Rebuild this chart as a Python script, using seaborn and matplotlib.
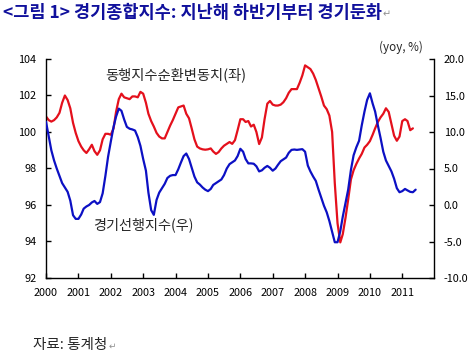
import numpy as np
import pandas as pd
import matplotlib
matplotlib.use("Agg")
import matplotlib.pyplot as plt
import matplotlib.dates as mdates
from matplotlib.ticker import FuncFormatter
import seaborn as sns

# 월별 데이터 (2000.1 ~ 2011.5/6)
동행지수순환변동치 = [
    100.85, 100.65, 100.57, 100.65, 100.80, 101.05, 101.60, 102.00, 101.75, 101.30, 100.50, 99.95,
    99.50, 99.20, 99.00, 98.85, 99.05, 99.30, 98.95, 98.75, 99.00, 99.60, 99.90, 99.90,
    99.85, 100.20, 101.10, 101.80, 102.10, 101.90, 101.85, 101.80, 101.95, 101.95, 101.90, 102.20,
    102.10, 101.60, 101.00, 100.60, 100.30, 99.95, 99.75, 99.65, 99.65, 100.00, 100.35, 100.65,
    101.00, 101.35, 101.40, 101.45, 101.00, 100.75, 100.20, 99.60, 99.20, 99.10, 99.05, 99.03,
    99.05, 99.10, 98.93, 98.80, 98.90, 99.10, 99.25, 99.35, 99.45, 99.35, 99.55, 100.10,
    100.70, 100.70, 100.55, 100.60, 100.30, 100.40, 100.00, 99.34, 99.70, 100.70, 101.55, 101.70,
    101.50, 101.45, 101.45, 101.50, 101.63, 101.85, 102.15, 102.35, 102.35, 102.35, 102.70, 103.10,
    103.65, 103.55, 103.45, 103.20, 102.85, 102.40, 101.95, 101.45, 101.25, 100.90, 100.00, 97.20,
    95.00, 93.95, 94.40, 95.30, 96.30, 97.40, 97.90, 98.25, 98.55, 98.80, 99.15, 99.30,
    99.50, 99.85, 100.20, 100.55, 100.80, 101.00, 101.30, 101.10, 100.45, 99.80, 99.52, 99.75,
    100.60, 100.70, 100.60, 100.10, 100.20,
]
경기선행지수 = [
    11.4, 9.4, 7.5, 6.1, 5.0, 4.0, 3.0, 2.4, 1.8, 0.6, -1.4, -1.9,
    -1.9, -1.3, -0.5, -0.2, 0.0, 0.35, 0.55, 0.15, 0.4, 1.6, 4.0, 6.6,
    8.7, 10.7, 12.1, 13.2, 12.9, 11.7, 10.7, 10.45, 10.35, 10.2, 9.3, 8.1,
    6.3, 4.7, 1.7, -0.7, -1.35, 0.7, 1.7, 2.3, 2.9, 3.7, 4.0, 4.1,
    4.1, 4.9, 5.8, 6.7, 7.05, 6.3, 5.1, 3.9, 3.1, 2.8, 2.4, 2.1,
    1.9, 2.2, 2.75, 3.0, 3.25, 3.5, 4.1, 5.0, 5.6, 5.85, 6.1, 6.7,
    7.7, 7.3, 6.3, 5.7, 5.7, 5.65, 5.3, 4.6, 4.75, 5.1, 5.35, 5.1,
    4.7, 5.0, 5.5, 6.0, 6.25, 6.5, 7.15, 7.55, 7.6, 7.55, 7.6, 7.65,
    7.3, 5.4, 4.6, 3.9, 3.3, 2.1, 1.0, -0.1, -1.0, -2.2, -3.7, -5.1,
    -5.1, -3.6, -1.6, 0.3, 2.1, 4.8, 6.8, 7.9, 8.8, 10.9, 12.8, 14.4,
    15.3, 13.9, 12.8, 10.9, 9.2, 7.3, 6.1, 5.35, 4.6, 3.6, 2.3, 1.75,
    1.9, 2.2, 2.0, 1.8, 1.75, 2.1,
]
연도 = list(range(2000, 2012))
좌축눈금 = [92, 94, 96, 98, 100, 102, 104]
우축눈금 = [-10, -5, 0, 5, 10, 15, 20]

df_동행 = pd.DataFrame({"날짜": pd.date_range("2000-01-01", periods=len(동행지수순환변동치), freq="MS"),
                      "값": 동행지수순환변동치})
df_선행 = pd.DataFrame({"날짜": pd.date_range("2000-01-01", periods=len(경기선행지수), freq="MS"),
                      "값": 경기선행지수})

sns.set_style("ticks")
plt.rcParams["font.family"] = ["Noto Sans CJK KR", "DejaVu Sans"]

fig = plt.figure(figsize=(4.74, 3.54), dpi=100)
ax = fig.add_axes([46 / 474, 1 - 278 / 354, 388 / 474, 219 / 354])
ax2 = ax.twinx()

빨강 = "#e4101c"
파랑 = "#0c10c4"

sns.lineplot(data=df_동행, x="날짜", y="값", ax=ax, color=빨강, lw=1.6)
sns.lineplot(data=df_선행, x="날짜", y="값", ax=ax2, color=파랑, lw=1.6)

ax.set_xlim(pd.Timestamp("2000-01-01"), pd.Timestamp("2011-12-25"))
ax.set_ylim(92, 104)
ax2.set_ylim(-10, 20)
ax.set_yticks(좌축눈금)
ax2.set_yticks(우축눈금)
ax2.yaxis.set_major_formatter(FuncFormatter(lambda v, p: f"{v:.1f}"))
ax.set_xticks([pd.Timestamp(f"{y}-01-01") for y in 연도])
ax.xaxis.set_major_formatter(mdates.DateFormatter("%Y"))

for a in (ax, ax2):
    a.set_xlabel("")
    a.set_ylabel("")
    a.spines["top"].set_visible(False)
    for s in ("left", "right", "bottom"):
        a.spines[s].set_color("black")
        a.spines[s].set_linewidth(1.0)
    a.tick_params(direction="in", length=3.5, width=1.0, labelsize=7.8, pad=7, colors="black")
ax.spines["right"].set_visible(False)
ax2.spines["left"].set_visible(False)
ax2.spines["bottom"].set_visible(False)

# 텍스트
fig.text(3 / 474, 1 - 13 / 354, "<그림 1> 경기종합지수: 지난해 하반기부터 경기둔화",
         fontsize=12.6, fontweight="bold", color="#10109c", va="center", ha="left")
fig.text(383 / 474, 1 - 14 / 354, "↵", fontsize=7, color="#909090", va="center", ha="left")
fig.text(379 / 474, 1 - 47.5 / 354, "(yoy, %)", fontsize=8.4, va="center", ha="left")
fig.text(105 / 474, 1 - 75 / 354, "동행지수순환변동치(좌)", fontsize=10.3, va="center", ha="left")
fig.text(93 / 474, 1 - 225 / 354, "경기선행지수(우)", fontsize=10.2, va="center", ha="left")
fig.text(33 / 474, 1 - 345 / 354, "자료: 통계청", fontsize=10.5, va="center", ha="left")
fig.text(109 / 474, 1 - 346 / 354, "↵", fontsize=6.5, color="#909090", va="center", ha="left")

fig.savefig("out.png", dpi=100, facecolor="white")
